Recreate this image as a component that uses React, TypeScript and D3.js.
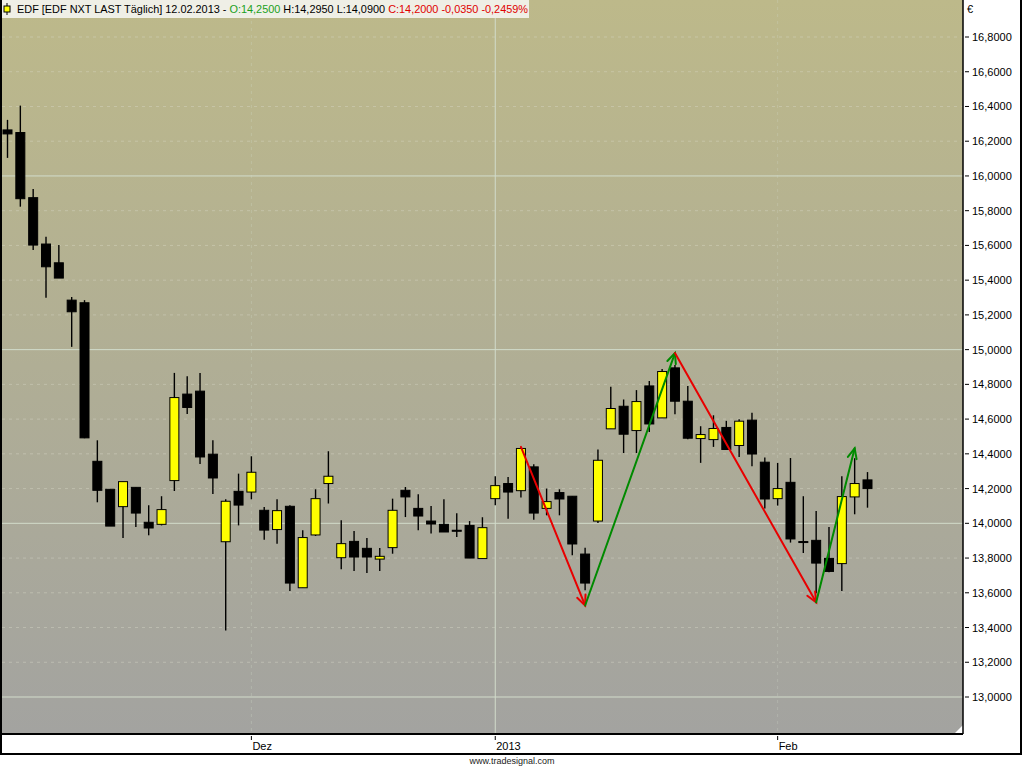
import React from "react";
import * as d3 from "d3";

const dates: string[] = [
  "2012-11-06","2012-11-07","2012-11-08","2012-11-09","2012-11-12","2012-11-13","2012-11-14","2012-11-15","2012-11-16",
  "2012-11-19","2012-11-20","2012-11-21","2012-11-22","2012-11-23","2012-11-26","2012-11-27","2012-11-28","2012-11-29","2012-11-30",
  "2012-12-03","2012-12-04","2012-12-05","2012-12-06","2012-12-07","2012-12-10","2012-12-11","2012-12-12","2012-12-13","2012-12-14",
  "2012-12-17","2012-12-18","2012-12-19","2012-12-20","2012-12-21","2012-12-24","2012-12-27","2012-12-28","2012-12-31",
  "2013-01-02","2013-01-03","2013-01-04","2013-01-07","2013-01-08","2013-01-09","2013-01-10","2013-01-11",
  "2013-01-14","2013-01-15","2013-01-16","2013-01-17","2013-01-18","2013-01-21","2013-01-22","2013-01-23","2013-01-24","2013-01-25",
  "2013-01-28","2013-01-29","2013-01-30","2013-01-31",
  "2013-02-01","2013-02-04","2013-02-05","2013-02-06","2013-02-07","2013-02-08","2013-02-11","2013-02-12",
];

const opens: number[] = [
  16.265,16.250,15.875,15.608,15.500,15.285,15.270,14.357,14.196,14.096,14.207,14.006,13.994,14.246,14.744,14.761,14.398,13.894,14.184,
  14.180,14.075,13.964,14.098,13.629,13.933,14.229,13.802,13.896,13.856,13.794,13.860,14.190,14.086,14.013,13.994,13.960,13.988,13.797,
  14.142,14.229,14.188,14.325,14.086,14.177,14.156,13.823,14.013,14.544,14.674,14.534,14.791,14.607,14.895,14.703,14.488,14.482,
  14.552,14.448,14.594,14.352,
  14.142,14.236,13.895,13.902,13.798,13.768,14.152,14.250,
];
const highs: number[] = [
  16.323,16.405,15.925,15.650,15.602,15.303,15.285,14.478,14.196,14.240,14.207,14.104,14.156,14.866,14.847,14.866,14.478,14.138,14.286,
  14.386,14.094,14.138,14.104,13.960,14.196,14.415,14.017,13.956,13.915,13.858,14.142,14.209,14.167,14.100,14.138,14.058,14.013,14.035,
  14.271,14.267,14.440,14.340,14.200,14.196,14.156,13.860,14.425,14.786,14.713,14.767,14.820,14.889,14.911,14.790,14.559,14.622,
  14.590,14.599,14.636,14.379,
  14.348,14.376,14.156,14.071,13.979,14.271,14.375,14.295,
];
const lows: number[] = [
  16.104,15.823,15.573,15.299,15.412,15.016,14.490,14.121,13.984,13.915,13.979,13.931,13.988,14.186,14.630,14.342,14.169,13.383,13.988,
  14.138,13.906,13.883,13.610,13.629,13.927,14.114,13.735,13.725,13.714,13.725,13.825,14.036,13.960,13.941,13.950,13.921,13.800,13.797,
  14.104,14.027,14.148,14.021,14.046,14.046,13.816,13.614,14.002,14.544,14.405,14.405,14.526,14.607,14.628,14.484,14.348,14.440,
  14.425,14.382,14.329,14.085,
  14.102,13.889,13.829,13.597,13.718,13.610,14.052,14.090,
];
const closes: number[] = [
  16.242,15.869,15.602,15.477,15.412,15.218,14.492,14.190,13.984,14.240,14.059,13.973,14.079,14.724,14.667,14.382,14.261,14.127,14.105,
  14.294,13.961,14.073,13.656,13.918,14.142,14.271,13.883,13.806,13.806,13.810,14.075,14.152,14.042,13.996,13.950,13.960,13.800,13.975,
  14.217,14.180,14.431,14.059,14.125,14.140,13.881,13.656,14.363,14.661,14.513,14.701,14.572,14.874,14.703,14.490,14.511,14.546,
  14.425,14.588,14.399,14.140,
  14.200,13.910,13.895,13.771,13.723,14.154,14.229,14.200,
];

const zigzagDates: string[] = ["2013-01-04", "2013-01-11", "2013-01-22", "2013-02-06", "2013-02-11"];
const zigzagValues: number[] = [14.44, 13.527, 14.98, 13.545, 14.432];

const yTicks: number[] = [13.0, 13.2, 13.4, 13.6, 13.8, 14.0, 14.2, 14.4, 14.6, 14.8, 15.0, 15.2, 15.4, 15.6, 15.8, 16.0, 16.2, 16.4, 16.6, 16.8];
const majorGrid: number[] = [13, 14, 15, 16];
const xTickDates: string[] = ["2012-12-03", "2013-01-02", "2013-02-01"];
const xTickLabels: string[] = ["Dez", "2013", "Feb"];

const W = 1024;
const H = 768;
const PL = 2, PR = 963, PT = 0, PB = 733;
const FONT = "'Liberation Sans', Arial, sans-serif";

export default function App() {
  const x = d3.scalePoint<string>().domain(dates).range([7.5, 867.5]);
  const y = d3.scaleLinear().domain([13, 16.8]).range([697, 37]);
  const fmt = (v: number) => d3.format(".4f")(v).replace(".", ",");
  const bw = 9;

  const arrows = zigzagDates.slice(1).map((d, i) => {
    const x0 = x(zigzagDates[i])!, y0 = y(zigzagValues[i]);
    const x1 = x(d)!, y1 = y(zigzagValues[i + 1]);
    const up = zigzagValues[i + 1] > zigzagValues[i];
    const ang = Math.atan2(y1 - y0, x1 - x0);
    const L = 11, a = 0.42;
    const h1 = [x1 - L * Math.cos(ang - a), y1 - L * Math.sin(ang - a)];
    const h2 = [x1 - L * Math.cos(ang + a), y1 - L * Math.sin(ang + a)];
    return { x0, y0, x1, y1, h1, h2, color: up ? "#008a00" : "#e80000" };
  });

  return (
    <svg width={W} height={H} style={{ position: "absolute", left: 0, top: 0, background: "#ffffff" }}>
      <defs>
        <linearGradient id="bg" x1="0" y1="0" x2="0" y2="1">
          <stop offset="0%" stopColor="#bdb98a" />
          <stop offset="100%" stopColor="#a3a3a0" />
        </linearGradient>
        <clipPath id="plotclip">
          <rect x={PL} y={PT} width={PR - PL} height={PB - PT} />
        </clipPath>
      </defs>
      <rect x={0} y={0} width={1021} height={755} fill="#ffffff" />
      <rect x={PL} y={PT} width={PR - PL} height={PB - PT} fill="url(#bg)" />

      <g clipPath="url(#plotclip)">
        {yTicks.filter((t) => !majorGrid.some((m) => Math.abs(m - t) < 1e-6)).map((t) => (
          <line key={"dg" + t} x1={PL} x2={PR} y1={y(t)} y2={y(t)} stroke="#dcdccc" strokeOpacity={0.4} strokeDasharray="3,4" />
        ))}
        {majorGrid.map((t) => (
          <line key={"g" + t} x1={PL} x2={PR} y1={y(t)} y2={y(t)} stroke="#d2dccb" strokeWidth={1} />
        ))}
        {xTickDates.map((d, i) => (
          <line key={"vg" + d} x1={x(d)!} x2={x(d)!} y1={PT} y2={PB} stroke="#d2dccb"
            strokeWidth={1} strokeDasharray={i === 1 ? undefined : "3,4"} strokeOpacity={i === 1 ? 1 : 0.3} />
        ))}

        {dates.map((d, i) => {
          const cx = x(d)!;
          const o = opens[i], c = closes[i];
          const upC = c > o;
          const top = y(Math.max(o, c));
          const bot = y(Math.min(o, c));
          const bh = Math.max(bot - top, 1);
          return (
            <g key={d}>
              <line x1={cx} x2={cx} y1={y(highs[i])} y2={y(lows[i])} stroke="#000" strokeWidth={1.4} />
              <rect x={cx - bw / 2} y={top} width={bw} height={bh}
                fill={upC ? "#ffff00" : "#000000"} stroke="#000" strokeWidth={1} />
            </g>
          );
        })}

        {arrows.map((a, i) => (
          <g key={"ar" + i} stroke={a.color} strokeWidth={2} fill="none" strokeLinecap="round">
            <line x1={a.x0} y1={a.y0} x2={a.x1} y2={a.y1} />
            <polyline points={`${a.h1[0]},${a.h1[1]} ${a.x1},${a.y1} ${a.h2[0]},${a.h2[1]}`} />
          </g>
        ))}
        <path d={`M${PR - 8},${PB} L${PR},${PB - 8} L${PR},${PB} Z`} fill="#ffffff" />
      </g>

      {/* header */}
      <rect x={PL} y={0} width={527} height={18} fill="#efefe6" />
      <line x1={7} x2={7} y1={3} y2={15} stroke="#000" strokeWidth={1} />
      <rect x={4} y={6} width={6} height={6} fill="#ffff00" stroke="#000" strokeWidth={1} />
      <text x={17} y={13} fontFamily={FONT} fontSize={10.9} fill="#000">
        <tspan>EDF [EDF NXT LAST Täglich] 12.02.2013 - </tspan>
        <tspan fill="#1aa01a">O:14,2500</tspan>
        <tspan> H:14,2950 L:14,0900 </tspan>
        <tspan fill="#e00000">C:14,2000 -0,0350 -0,2459%</tspan>
      </text>

      {/* right axis */}
      <text x={967} y={13} fontFamily={FONT} fontSize={11} fill="#000">€</text>
      {yTicks.map((t) => (
        <g key={"yt" + t}>
          <line x1={965} x2={969} y1={y(t)} y2={y(t)} stroke="#000" strokeWidth={1} />
          <text x={972} y={y(t) + 4} fontFamily={FONT} fontSize={11} fill="#000">{fmt(t)}</text>
        </g>
      ))}

      {/* bottom axis */}
      {xTickDates.map((d, i) => (
        <g key={"xt" + d}>
          <line x1={x(d)!} x2={x(d)!} y1={736} y2={740} stroke="#000" strokeWidth={1} />
          <text x={x(d)! + 1} y={750} fontFamily={FONT} fontSize={11} fill="#000">{xTickLabels[i]}</text>
        </g>
      ))}

      {/* frame */}
      <line x1={PL} x2={PR} y1={PB + 1} y2={PB + 1} stroke="#000" strokeWidth={2} />
      <line x1={PR} x2={PR} y1={PT} y2={PB + 1} stroke="#000" strokeWidth={1.5} />
      <rect x={1} y={-1} width={1020} height={755} fill="none" stroke="#000" strokeWidth={2} />

      <text x={512} y={764} textAnchor="middle" fontFamily={FONT} fontSize={9} fill="#222">www.tradesignal.com</text>
    </svg>
  );
}
